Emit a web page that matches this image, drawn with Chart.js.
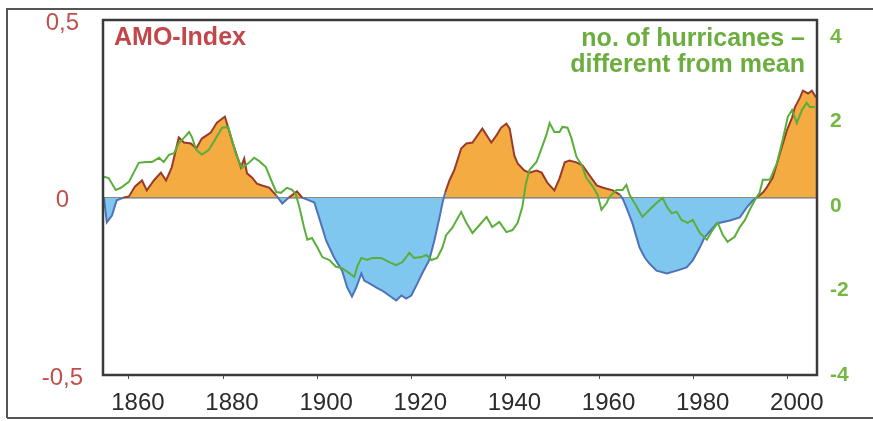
<!DOCTYPE html>
<html>
<head>
<meta charset="utf-8">
<title>AMO-Index und Hurrikane</title>
<script src="https://cdn.jsdelivr.net/npm/chart.js@4.4.1/dist/chart.umd.min.js"></script>
<style>
    body { margin: 0; background: #ffffff; }
    #wrap { width: 873px; height: 421px; position: relative; }
</style>
</head>
<body>
<div id="wrap"><canvas id="amoChart"></canvas></div>
<script>
// Datos
var amoYears = [1854.7, 1855.3, 1856.4, 1857.4, 1858.9, 1860.0, 1861.3, 1862.8, 1863.8, 1865.3, 1866.8, 1867.9, 1869.1, 1870.6, 1871.7, 1873.2, 1874.3, 1875.5, 1877.4, 1878.7, 1880.4, 1881.9, 1882.8, 1883.8, 1884.5, 1885.1, 1886.2, 1887.2, 1888.3, 1889.8, 1891.3, 1892.6, 1894.0, 1895.7, 1896.8, 1898.3, 1899.4, 1900.4, 1901.9, 1903.6, 1905.3, 1906.4, 1907.4, 1908.3, 1909.4, 1910.0, 1911.1, 1912.6, 1913.8, 1915.3, 1916.8, 1917.9, 1918.9, 1920.0, 1921.3, 1922.3, 1923.8, 1924.9, 1926.0, 1926.6, 1927.2, 1928.1, 1929.1, 1930.6, 1931.7, 1933.0, 1934.5, 1935.1, 1937.0, 1938.1, 1939.1, 1940.2, 1940.9, 1941.9, 1942.6, 1944.0, 1945.1, 1946.6, 1947.7, 1948.9, 1950.4, 1951.5, 1952.6, 1953.6, 1955.1, 1956.4, 1957.9, 1959.4, 1960.6, 1962.8, 1964.3, 1964.9, 1965.7, 1967.0, 1968.5, 1969.6, 1970.6, 1972.1, 1974.3, 1976.4, 1978.5, 1979.8, 1981.3, 1982.3, 1984.9, 1987.7, 1989.8, 1991.3, 1992.6, 1993.4, 1994.7, 1995.5, 1996.8, 1997.7, 1998.7, 1999.8, 2000.9, 2001.5, 2002.6, 2003.2, 2004.3, 2005.1, 2006.0];
var amoValues = [0, -0.070, -0.051, -0.008, 0, 0.003, 0.031, 0.048, 0.020, 0.048, 0.070, 0.048, 0.085, 0.169, 0.155, 0.152, 0.138, 0.166, 0.183, 0.211, 0.228, 0.161, 0.124, 0.085, 0.110, 0.068, 0.056, 0.039, 0.034, 0.028, 0.006, -0.017, 0, 0.017, 0, -0.008, -0.014, -0.056, -0.121, -0.169, -0.206, -0.254, -0.279, -0.254, -0.214, -0.234, -0.242, -0.254, -0.262, -0.276, -0.290, -0.276, -0.285, -0.276, -0.242, -0.214, -0.177, -0.121, -0.056, -0.017, 0.014, 0.048, 0.076, 0.138, 0.152, 0.155, 0.183, 0.194, 0.155, 0.175, 0.197, 0.208, 0.194, 0.118, 0.096, 0.076, 0.070, 0.076, 0.070, 0.042, 0.020, 0.054, 0.099, 0.104, 0.099, 0.090, 0.062, 0.034, 0.028, 0.020, 0.008, -0.003, -0.028, -0.073, -0.141, -0.169, -0.186, -0.206, -0.214, -0.206, -0.197, -0.177, -0.141, -0.113, -0.073, -0.065, -0.056, -0.028, -0.008, 0, 0.014, 0.028, 0.056, 0.096, 0.141, 0.189, 0.225, 0.254, 0.282, 0.301, 0.293, 0.301, 0.282];

var hurYears = [1854.7, 1855.7, 1857.2, 1858.3, 1860.0, 1862.1, 1863.6, 1864.9, 1866.4, 1867.4, 1868.5, 1869.6, 1870.6, 1871.7, 1872.8, 1873.4, 1874.3, 1875.5, 1877.0, 1878.5, 1879.8, 1881.1, 1881.9, 1882.8, 1884.0, 1885.5, 1886.6, 1887.7, 1889.1, 1890.2, 1891.3, 1892.3, 1893.6, 1894.7, 1895.5, 1896.2, 1897.2, 1897.9, 1898.9, 1900.0, 1901.1, 1902.6, 1904.0, 1905.3, 1906.8, 1907.9, 1908.5, 1909.4, 1910.6, 1911.7, 1913.6, 1915.3, 1916.8, 1918.1, 1919.6, 1920.6, 1922.1, 1923.2, 1924.3, 1925.5, 1926.6, 1927.4, 1928.7, 1930.6, 1931.7, 1933.0, 1934.5, 1936.0, 1937.2, 1938.7, 1940.2, 1941.5, 1942.6, 1943.6, 1944.3, 1945.1, 1946.6, 1947.7, 1948.7, 1949.4, 1950.4, 1951.5, 1952.1, 1953.2, 1954.0, 1955.1, 1956.2, 1957.2, 1958.5, 1959.6, 1960.4, 1961.5, 1962.1, 1963.6, 1964.9, 1965.7, 1966.4, 1967.9, 1969.1, 1970.6, 1972.1, 1973.4, 1974.3, 1975.3, 1976.4, 1977.4, 1978.7, 1979.8, 1981.3, 1982.8, 1984.0, 1985.1, 1986.2, 1987.2, 1988.7, 1989.8, 1990.9, 1991.9, 1993.0, 1994.0, 1994.7, 1996.2, 1997.7, 1998.9, 2000.0, 2000.9, 2001.9, 2003.0, 2004.0, 2004.7, 2005.7];
var hurValues = [0.69, 0.66, 0.38, 0.43, 0.57, 1.02, 1.04, 1.04, 1.14, 1.04, 1.21, 1.25, 1.49, 1.61, 1.75, 1.63, 1.33, 1.21, 1.33, 1.61, 1.85, 1.87, 1.56, 1.21, 0.90, 1.02, 1.14, 1.06, 0.92, 0.62, 0.33, 0.31, 0.43, 0.38, 0.26, -0.02, -0.50, -0.80, -0.76, -0.97, -1.21, -1.28, -1.44, -1.47, -1.59, -1.68, -1.44, -1.23, -1.28, -1.23, -1.23, -1.33, -1.40, -1.33, -1.11, -1.23, -1.21, -1.16, -1.28, -1.23, -0.99, -0.69, -0.52, -0.14, -0.40, -0.64, -0.45, -0.26, -0.50, -0.38, -0.62, -0.57, -0.40, -0.02, 0.50, 0.85, 1.04, 1.37, 1.68, 1.96, 1.75, 1.75, 1.87, 1.85, 1.61, 1.16, 0.97, 0.66, 0.47, 0.26, -0.09, 0.07, 0.21, 0.38, 0.38, 0.50, 0.26, -0.02, -0.26, -0.09, 0.07, 0.19, -0.02, -0.17, -0.14, -0.33, -0.40, -0.33, -0.64, -0.80, -0.57, -0.40, -0.69, -0.85, -0.73, -0.50, -0.33, -0.09, 0.14, 0.31, 0.62, 0.62, 1.02, 1.56, 2.11, 2.27, 1.96, 2.27, 2.44, 2.34, 2.34];

// Etiquetas de los ejes
var xTicks = [1860, 1880, 1900, 1920, 1940, 1960, 1980, 2000];
var amoTicks = [-0.5, 0, 0.5];
var hurTicks = [-4, -2, 0, 2, 4];

var textoAmo = 'AMO-Index';
var textoHur = ['no. of hurricanes \u2013', 'different from mean'];

function puntos(xs, ys) {
    var out = [];
    for (var i = 0; i < xs.length; i++) {
        out.push({ x: xs[i], y: ys[i] });
    }
    return out;
}

// sin relleno extra arriba/abajo por las etiquetas
function sinPadding(s) {
    s.paddingTop = 0;
    s.paddingBottom = 0;
}

// Marco del grafico y textos
var marcoPlugin = {
    id: 'marco',
    afterDraw: function (chart) {
        var ctx = chart.ctx;
        var a = chart.chartArea;
        ctx.save();
        // borde exterior del escaneo
        ctx.strokeStyle = '#555555';
        ctx.lineWidth = 2;
        ctx.beginPath();
        ctx.moveTo(7, 418); ctx.lineTo(7, 9); ctx.lineTo(873, 9);
        ctx.moveTo(7, 418); ctx.lineTo(873, 418);
        ctx.stroke();
        // borde del area
        ctx.strokeStyle = '#3a3a3a';
        ctx.lineWidth = 2.5;
        ctx.strokeRect(a.left, a.top, a.right - a.left, a.bottom - a.top);
        // textos
        ctx.font = 'bold 25px "Liberation Sans", Arial, sans-serif';
        ctx.fillStyle = '#c2474b';
        ctx.textAlign = 'left';
        ctx.textBaseline = 'alphabetic';
        ctx.fillText(textoAmo, a.left + 11, 45);
        ctx.fillStyle = '#6cae3e';
        ctx.textAlign = 'right';
        ctx.fillText(textoHur[0], a.right - 12, 46);
        ctx.fillText(textoHur[1], a.right - 12, 72);
        ctx.restore();
    }
};

var config = {
    type: 'line',
    data: {
        datasets: [{
            label: 'hurricanes',
            data: puntos(hurYears, hurValues),
            yAxisID: 'y2',
            borderColor: '#5aae3a',
            borderWidth: 2,
            pointRadius: 0,
            fill: false,
            order: 0
        }, {
            label: 'AMO',
            data: puntos(amoYears, amoValues),
            yAxisID: 'y',
            borderColor: '#9a3b2a',
            borderWidth: 2,
            pointRadius: 0,
            fill: { target: { value: 0 }, above: '#f3ab42', below: '#80c7ef' },
            segment: {
                borderColor: function (c) {
                    return (c.p0.parsed.y < 0 || c.p1.parsed.y < 0) ? '#4f72b8' : '#9a3b2a';
                }
            },
            order: 1
        }]
    },
    options: {
        responsive: true,
        maintainAspectRatio: false,
        animation: false,
        layout: { padding: { top: 20, left: 0, right: 0, bottom: 0 } },
        plugins: {
            legend: { display: false },
            tooltip: { enabled: false }
        },
        scales: {
            x: {
                type: 'linear',
                min: 1854.5,
                max: 2006.2,
                afterBuildTicks: function (s) { s.ticks = xTicks.map(function (v) { return { value: v }; }); },
                afterFit: function (s) { s.height = 46; },
                grid: { drawOnChartArea: false, color: '#555555', tickLength: 4 },
                border: { display: false },
                ticks: {
                    labelOffset: 9,
                    padding: 10,
                    color: '#2b2b2b',
                    font: { family: '"Liberation Sans", Arial, sans-serif', size: 24 },
                    callback: function (v) { return String(v); }
                }
            },
            y: {
                position: 'left',
                min: -0.5,
                max: 0.5,
                afterBuildTicks: function (s) { s.ticks = amoTicks.map(function (v) { return { value: v }; }); },
                afterFit: function (s) { s.width = 103; sinPadding(s); },
                grid: {
                    drawTicks: false,
                    lineWidth: 1.5,
                    color: function (c) { return (c.tick && c.tick.value === 0) ? '#6e6860' : 'rgba(0,0,0,0)'; }
                },
                border: { display: false },
                ticks: {
                    padding: 20,
                    labelOffset: 3,
                    crossAlign: 'center',
                    color: '#c0504d',
                    font: { family: '"Liberation Sans", Arial, sans-serif', size: 24 },
                    callback: function (v) { return String(v).replace('.', ','); }
                }
            },
            y2: {
                position: 'right',
                min: -4,
                max: 4.4,
                afterBuildTicks: function (s) { s.ticks = hurTicks.map(function (v) { return { value: v }; }); },
                afterFit: function (s) { s.width = 56; sinPadding(s); },
                grid: { display: false, drawTicks: false },
                border: { display: false },
                ticks: {
                    padding: 13,
                    color: '#74b842',
                    font: { family: '"Liberation Sans", Arial, sans-serif', size: 21, weight: 'bold' },
                    callback: function (v) { return String(v); }
                }
            }
        }
    },
    plugins: [marcoPlugin]
};

window.onload = function () {
    var ctx = document.getElementById('amoChart');
    window.amoChart = new Chart(ctx, config);
};
</script>
</body>
</html>
